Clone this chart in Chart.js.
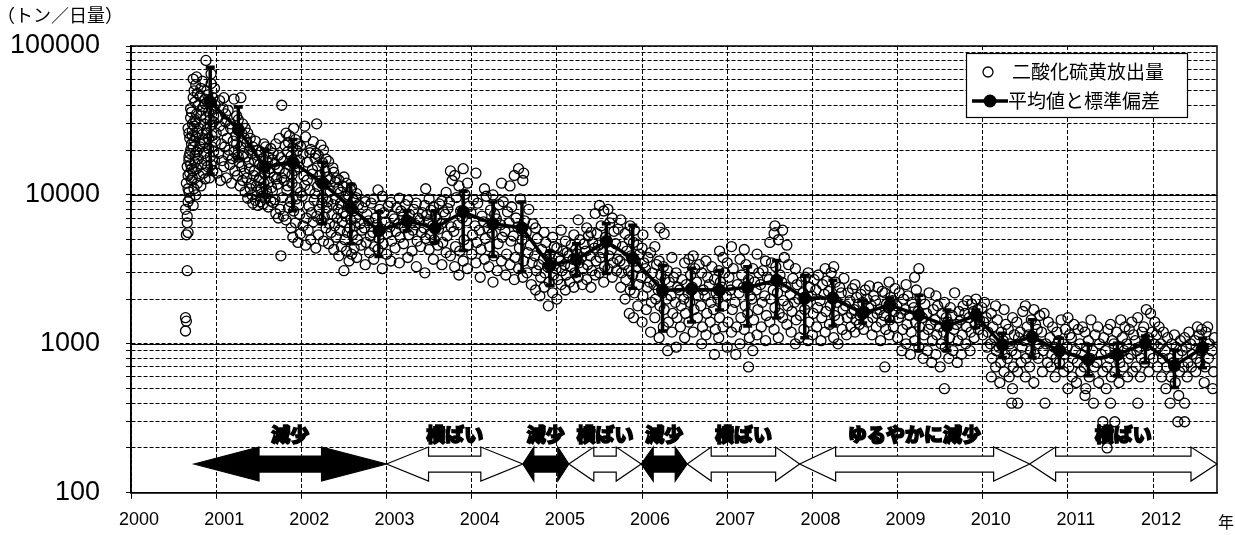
<!DOCTYPE html>
<html lang="ja">
<head>
<meta charset="utf-8">
<title>二酸化硫黄放出量</title>
<script src="https://cdn.jsdelivr.net/npm/chart.js@4.4.1/dist/chart.umd.min.js"></script>
<style>
  html, body { margin: 0; padding: 0; background: #fff; }
  #wrap { position: relative; width: 1235px; height: 535px; }
</style>
</head>
<body>
<div id="wrap"><canvas id="so2Chart" width="1235" height="535"></canvas></div>
<script>
// --- 日別の二酸化硫黄放出量 [年, トン/日] ---
const so2_2000 = [
  [2000.64,1220],[2000.65,1420],[2000.64,1500],[2000.66,3100],[2000.65,5400],[2000.67,5600],[2000.66,6500],[2000.64,8000],[2000.67,9000],
  [2000.66,7200],[2000.68,10500],[2000.65,12000],[2000.67,13500],[2000.66,15500],[2000.68,18000],
  [2000.69,9500],[2000.67,11000],[2000.69,14000],[2000.68,17000],[2000.70,20000],[2000.69,24000],[2000.67,28000],[2000.70,33000],
  [2000.71,12500],[2000.70,16000],[2000.69,19000],[2000.71,22000],[2000.68,26000],[2000.72,30000],[2000.70,38000],
  [2000.73,8500],[2000.72,13000],[2000.71,15000],[2000.73,21000],[2000.72,25000],[2000.71,36000],[2000.73,45000],
  [2000.74,11000],[2000.73,14500],[2000.75,18500],[2000.74,23000],[2000.72,27000],[2000.75,32000],[2000.74,50000],[2000.73,60000],
  [2000.76,10000],[2000.75,16500],[2000.77,19500],[2000.76,24500],[2000.74,29000],[2000.77,35000],[2000.75,42000],[2000.76,55000],
  [2000.78,12000],[2000.77,15000],[2000.79,20000],[2000.78,26000],[2000.76,31000],[2000.79,40000],[2000.78,48000],[2000.77,62000],
  [2000.80,13500],[2000.79,17500],[2000.81,22000],[2000.80,28000],[2000.82,34000],[2000.81,46000],
  [2000.82,11500],[2000.83,16000],[2000.81,21000],[2000.84,25500],[2000.83,37000],[2000.82,52000],[2000.84,58000],
  [2000.85,14000],[2000.86,19000],[2000.84,23500],[2000.86,30000],[2000.85,39000],[2000.87,44000],
  [2000.87,12800],[2000.88,17000],[2000.86,22500],[2000.89,27500],[2000.88,33000],[2000.87,41000],[2000.89,50000],[2000.88,80000],
  [2000.90,15500],[2000.91,20500],[2000.89,26000],[2000.91,36000],[2000.90,47000],
  [2000.92,13000],[2000.93,18000],[2000.91,24000],[2000.93,32000],[2000.92,43000],[2000.94,65000],
  [2000.94,16000],[2000.95,21000],[2000.93,29000],[2000.95,38000],[2000.94,56000],
  [2000.96,14500],[2000.97,19500],[2000.95,25000],[2000.97,34000],[2000.96,45000],
  [2000.98,17000],[2000.99,23000],[2000.97,31000],[2000.99,40000],[2000.98,52000]
];
const so2_2001 = [
  [2001.01,14000],[2001.03,19000],[2001.00,26000],[2001.02,33000],[2001.04,43000],
  [2001.05,12500],[2001.07,17000],[2001.06,22000],[2001.04,29000],[2001.08,38000],
  [2001.09,15500],[2001.10,21000],[2001.08,27000],[2001.11,35000],[2001.09,45000],
  [2001.12,13000],[2001.14,18500],[2001.13,24000],[2001.11,31000],
  [2001.16,16000],[2001.15,20000],[2001.17,28000],[2001.14,37000],
  [2001.18,12000],[2001.19,17500],[2001.20,23000],[2001.17,30000],[2001.21,44000],
  [2001.22,14500],[2001.21,19500],[2001.23,25000],[2001.24,34000],
  [2001.25,13500],[2001.26,18000],[2001.24,22000],[2001.27,27000],[2001.26,32000],
  [2001.28,11500],[2001.27,16500],[2001.29,21000],[2001.30,26000],[2001.29,45000],
  [2001.31,12500],[2001.30,15500],[2001.32,19000],[2001.33,24000],[2001.31,30000],
  [2001.34,10500],[2001.33,14000],[2001.35,18000],[2001.36,22500],[2001.34,28000],
  [2001.37,9500],[2001.36,13000],[2001.38,16500],[2001.39,20000],[2001.37,26000],
  [2001.40,11000],[2001.41,12000],[2001.39,15000],[2001.42,19000],[2001.40,24000],
  [2001.43,8800],[2001.42,10000],[2001.44,13500],[2001.45,17000],[2001.43,21000],
  [2001.46,9200],[2001.47,11500],[2001.45,14500],[2001.48,18500],[2001.46,23000],
  [2001.49,8500],[2001.48,10500],[2001.50,12500],[2001.51,16000],[2001.49,20000],
  [2001.52,9000],[2001.53,11000],[2001.51,13000],[2001.54,15500],[2001.52,19500],
  [2001.55,8700],[2001.54,9800],[2001.56,12000],[2001.57,14000],[2001.55,17500],[2001.56,22000],
  [2001.58,9500],[2001.59,10800],[2001.57,13800],[2001.60,16500],[2001.58,21000],
  [2001.61,8300],[2001.60,10200],[2001.62,12200],[2001.63,15000],[2001.61,18000],
  [2001.64,9100],[2001.65,11200],[2001.63,14200],[2001.66,17200],[2001.64,20500],
  [2001.67,8900],[2001.66,10600],[2001.68,13200],[2001.69,16000],[2001.67,19000],
  [2001.70,7500],[2001.69,9300],[2001.71,12800],[2001.72,15200],[2001.70,22000],
  [2001.73,7000],[2001.72,11800],[2001.74,14800],[2001.73,18500],
  [2001.76,3900],[2001.75,8000],[2001.77,13000],[2001.76,17800],[2001.74,24000],[2001.77,40000],
  [2001.79,7200],[2001.78,9600],[2001.80,12500],[2001.79,16800],[2001.81,21500],
  [2001.82,6800],[2001.83,10800],[2001.81,14000],[2001.84,19500],[2001.82,26000],
  [2001.85,8200],[2001.84,11500],[2001.86,15800],[2001.85,22500],
  [2001.88,6000],[2001.87,9000],[2001.89,13600],[2001.88,18200],[2001.86,25000],
  [2001.90,5200],[2001.91,7800],[2001.89,12000],[2001.92,16200],[2001.90,20800],[2001.91,28000],
  [2001.93,6500],[2001.94,9400],[2001.92,14600],[2001.95,19800],[2001.93,23500],
  [2001.96,4800],[2001.97,8600],[2001.95,11200],[2001.98,17000],[2001.96,22000],
  [2001.99,5500],[2001.98,7400],[2001.99,10400],[2001.97,15400],[2001.99,21200]
];
const so2_2002 = [
  [2002.02,6200],[2002.01,9800],[2002.03,13400],[2002.02,18800],[2002.04,29000],
  [2002.05,4600],[2002.06,7000],[2002.04,11600],[2002.07,16600],[2002.05,24500],
  [2002.08,5800],[2002.09,8400],[2002.07,12600],[2002.10,19200],
  [2002.11,5000],[2002.12,7600],[2002.10,10800],[2002.13,14800],[2002.11,20200],
  [2002.14,6600],[2002.15,9200],[2002.13,13800],[2002.16,17600],[2002.14,22800],
  [2002.17,4400],[2002.18,7200],[2002.16,10200],[2002.19,15600],[2002.17,19000],[2002.18,30000],
  [2002.20,5400],[2002.21,8000],[2002.19,11400],[2002.22,13600],[2002.20,18400],
  [2002.23,6800],[2002.24,8800],[2002.22,12400],[2002.25,16400],[2002.23,21600],
  [2002.26,4900],[2002.27,7100],[2002.25,9600],[2002.28,14400],[2002.26,20000],
  [2002.29,6000],[2002.30,8200],[2002.28,11800],[2002.31,13200],[2002.29,17400],
  [2002.32,4700],[2002.33,6400],[2002.31,9000],[2002.34,12800],[2002.32,16800],
  [2002.35,5600],[2002.36,7400],[2002.34,10600],[2002.37,15200],
  [2002.38,4300],[2002.39,6200],[2002.37,8600],[2002.40,12200],[2002.38,14200],
  [2002.41,5200],[2002.42,7000],[2002.40,9400],[2002.43,11000],[2002.41,13000],
  [2002.44,3900],[2002.45,5800],[2002.43,8000],[2002.46,10400],[2002.44,12600],
  [2002.47,4500],[2002.48,6600],[2002.46,8800],[2002.49,11400],
  [2002.50,3100],[2002.51,5000],[2002.49,7600],[2002.52,9800],[2002.50,13200],
  [2002.53,4200],[2002.54,5600],[2002.52,7200],[2002.55,10000],[2002.53,12000],
  [2002.56,3600],[2002.57,6000],[2002.55,8400],[2002.58,10800],
  [2002.59,4000],[2002.60,5400],[2002.58,6800],[2002.61,9200],[2002.59,11200],
  [2002.62,4400],[2002.63,6200],[2002.61,7800],[2002.64,9600],
  [2002.65,3800],[2002.66,5000],[2002.64,7000],[2002.67,8600],[2002.65,10200],
  [2002.70,4600],[2002.71,5800],[2002.69,6400],[2002.72,8200],
  [2002.75,3400],[2002.76,4800],[2002.74,6000],[2002.77,7400],[2002.75,9000],
  [2002.80,4100],[2002.81,5300],[2002.79,6700],[2002.82,8800],
  [2002.85,3700],[2002.86,4500],[2002.84,5600],[2002.87,7000],[2002.85,9400],
  [2002.90,4300],[2002.91,5100],[2002.89,6300],[2002.92,8000],[2002.90,10800],
  [2002.95,3200],[2002.96,4700],[2002.94,5900],[2002.97,7600],[2002.95,9800]
];
const so2_2003 = [
  [2003.00,4000],[2003.01,5500],[2002.99,6600],[2003.02,8400],
  [2003.05,3600],[2003.06,4900],[2003.04,6100],[2003.07,7200],[2003.05,8900],
  [2003.10,4400],[2003.11,5700],[2003.09,6900],[2003.12,8200],
  [2003.15,3500],[2003.16,5200],[2003.14,6400],[2003.17,7800],[2003.15,9500],
  [2003.20,4700],[2003.21,6000],[2003.19,7100],[2003.22,8600],
  [2003.25,3800],[2003.26,5400],[2003.24,6700],[2003.27,7400],[2003.25,9200],
  [2003.30,4200],[2003.31,5800],[2003.29,6500],[2003.32,8000],
  [2003.35,3300],[2003.36,4900],[2003.34,6300],[2003.37,7000],[2003.35,8800],
  [2003.40,4500],[2003.41,5600],[2003.39,6800],[2003.42,7600],
  [2003.45,3000],[2003.46,5100],[2003.44,6000],[2003.47,7300],[2003.45,8500],[2003.46,11000],
  [2003.50,4300],[2003.51,5500],[2003.49,6600],[2003.52,7900],[2003.50,9400],
  [2003.55,3700],[2003.56,5000],[2003.54,6200],[2003.57,7100],[2003.55,8300],
  [2003.60,4600],[2003.61,5900],[2003.59,6900],[2003.62,8700],
  [2003.65,3400],[2003.66,4800],[2003.64,6400],[2003.67,7700],[2003.65,9100],
  [2003.70,4100],[2003.71,5300],[2003.69,7400],[2003.72,8100],[2003.70,10400],
  [2003.75,3900],[2003.76,6100],[2003.74,8900],[2003.77,12500],[2003.75,14500],
  [2003.80,3300],[2003.81,4500],[2003.79,5700],[2003.82,9600],[2003.80,13500],
  [2003.85,2900],[2003.86,4200],[2003.84,6300],[2003.87,7800],[2003.85,11500],
  [2003.90,3600],[2003.91,5000],[2003.89,7000],[2003.92,10100],[2003.90,15000],
  [2003.95,3200],[2003.96,4600],[2003.94,6700],[2003.97,8400],[2003.95,12000]
];
const so2_2004 = [
  [2004.00,4000],[2004.01,5400],[2003.99,7600],[2004.02,9300],
  [2004.05,3500],[2004.06,4800],[2004.04,6200],[2004.07,8800],[2004.05,14000],
  [2004.10,2800],[2004.11,4300],[2004.09,5800],[2004.12,7200],
  [2004.15,3700],[2004.16,5100],[2004.14,6600],[2004.17,9800],[2004.15,11000],
  [2004.20,3300],[2004.21,4500],[2004.19,6000],[2004.22,7900],
  [2004.25,2600],[2004.26,3900],[2004.24,5500],[2004.27,7400],[2004.25,10000],
  [2004.30,3100],[2004.31,4700],[2004.29,6900],[2004.32,8600],
  [2004.35,3600],[2004.36,5200],[2004.34,6300],[2004.37,9000],[2004.35,12000],
  [2004.40,2900],[2004.41,4000],[2004.39,5700],[2004.42,7700],
  [2004.45,3400],[2004.46,4900],[2004.44,6500],[2004.47,8300],[2004.45,11500],
  [2004.50,2700],[2004.51,3800],[2004.49,5300],[2004.52,7000],[2004.50,13500],
  [2004.55,3200],[2004.56,4400],[2004.54,6100],[2004.57,9400],[2004.55,15000],
  [2004.60,2800],[2004.61,3600],[2004.59,5000],[2004.62,6700],[2004.60,12500],[2004.61,14000],
  [2004.65,3000],[2004.66,4100],[2004.64,5600],[2004.67,8000],
  [2004.70,2500],[2004.71,3500],[2004.69,4600],[2004.72,6400],
  [2004.75,2300],[2004.76,3100],[2004.74,3900],[2004.77,5100],[2004.75,6000],
  [2004.80,2100],[2004.81,2800],[2004.79,3400],[2004.82,4300],
  [2004.85,2400],[2004.86,3000],[2004.84,3700],[2004.87,4800],[2004.85,5600],
  [2004.90,1800],[2004.91,2600],[2004.89,3300],[2004.92,4000],
  [2004.95,2200],[2004.96,2900],[2004.94,3500],[2004.97,4500],[2004.95,5200]
];
const so2_2005 = [
  [2005.00,2000],[2005.01,2700],[2004.99,3200],[2005.02,3800],[2005.00,4400],
  [2005.05,2500],[2005.06,3100],[2005.04,3600],[2005.07,4200],[2005.05,5800],
  [2005.10,2300],[2005.11,2900],[2005.09,3400],[2005.12,4100],[2005.10,4900],
  [2005.15,2600],[2005.16,3300],[2005.14,3900],[2005.17,4600],
  [2005.20,2400],[2005.21,3000],[2005.19,3700],[2005.22,4300],[2005.20,5400],
  [2005.25,2800],[2005.26,3500],[2005.24,4000],[2005.27,5000],[2005.25,6800],
  [2005.30,2500],[2005.31,3200],[2005.29,3800],[2005.32,4700],
  [2005.35,2700],[2005.36,3400],[2005.34,4200],[2005.37,5300],[2005.35,6000],
  [2005.40,2400],[2005.41,3100],[2005.39,3900],[2005.42,4800],[2005.40,5600],
  [2005.45,2900],[2005.46,3600],[2005.44,4400],[2005.47,5500],[2005.45,7500],
  [2005.50,3000],[2005.51,3800],[2005.49,4600],[2005.52,6200],[2005.50,8500],
  [2005.55,2600],[2005.56,3300],[2005.54,4100],[2005.57,5200],[2005.55,7800],
  [2005.60,3200],[2005.61,3900],[2005.59,4900],[2005.62,6500],[2005.60,8000],
  [2005.65,2800],[2005.66,3500],[2005.64,4300],[2005.67,5700],[2005.65,7000],
  [2005.70,3100],[2005.71,3700],[2005.69,4700],[2005.72,5900],
  [2005.75,2400],[2005.76,3000],[2005.74,3600],[2005.77,4500],[2005.75,6800],
  [2005.80,2000],[2005.81,2700],[2005.79,3400],[2005.82,4200],[2005.80,5500],
  [2005.85,1600],[2005.86,2300],[2005.84,3100],[2005.87,3900],[2005.85,5000],[2005.86,6200],
  [2005.90,1500],[2005.91,2200],[2005.89,2900],[2005.92,3600],[2005.90,4800],[2005.91,5800],
  [2005.95,1800],[2005.96,2500],[2005.94,3300],[2005.97,4000],[2005.95,4600]
];
const so2_2006 = [
  [2006.00,1400],[2006.01,2100],[2005.99,2800],[2006.02,3500],[2006.00,4400],[2006.01,5400],
  [2006.05,1700],[2006.06,2400],[2006.04,3200],[2006.07,3800],
  [2006.10,1200],[2006.11,1900],[2006.09,2600],[2006.12,3000],[2006.10,4100],
  [2006.15,1500],[2006.16,2000],[2006.14,2500],[2006.17,3400],[2006.15,4500],
  [2006.20,1100],[2006.21,1800],[2006.19,2300],[2006.22,2900],[2006.20,3600],[2006.21,6000],
  [2006.25,1300],[2006.26,1700],[2006.24,2200],[2006.27,2700],[2006.25,3300],[2006.26,5500],
  [2006.30,900],[2006.31,1400],[2006.29,2000],[2006.32,2600],[2006.30,3100],
  [2006.35,1200],[2006.36,1600],[2006.34,2100],[2006.37,2800],[2006.35,3800],
  [2006.40,950],[2006.41,1500],[2006.39,1900],[2006.42,2400],[2006.40,3000],
  [2006.45,1300],[2006.46,1800],[2006.44,2300],[2006.47,2700],
  [2006.50,1100],[2006.51,1600],[2006.49,2000],[2006.52,2500],[2006.50,3500],
  [2006.55,1400],[2006.56,1900],[2006.54,2200],[2006.57,2900],[2006.55,3700],
  [2006.60,1200],[2006.61,1700],[2006.59,2400],[2006.62,3200],[2006.60,3900],
  [2006.65,1500],[2006.66,2100],[2006.64,2600],[2006.67,3400],
  [2006.70,1000],[2006.71,1300],[2006.69,1800],[2006.72,2300],[2006.70,3000],
  [2006.75,1150],[2006.76,1600],[2006.74,2100],[2006.77,2800],[2006.75,3600],
  [2006.80,1400],[2006.81,1900],[2006.79,2500],[2006.82,3300],
  [2006.85,850],[2006.86,1250],[2006.84,1700],[2006.87,2200],[2006.85,2700],
  [2006.90,1100],[2006.91,1500],[2006.89,2000],[2006.92,2600],[2006.90,3100],[2006.91,4200],
  [2006.95,1300],[2006.96,1800],[2006.94,2400],[2006.97,3000],[2006.95,3800]
];
const so2_2007 = [
  [2007.00,950],[2007.01,1400],[2006.99,2100],[2007.02,2800],[2007.00,3500],
  [2007.05,1200],[2007.06,1700],[2007.04,2300],[2007.07,3200],[2007.05,4500],
  [2007.10,850],[2007.11,1300],[2007.09,1900],[2007.12,2500],
  [2007.15,1000],[2007.16,1500],[2007.14,2200],[2007.17,2900],[2007.15,3700],
  [2007.20,1250],[2007.21,1800],[2007.19,2400],[2007.22,3400],[2007.20,4300],
  [2007.25,700],[2007.26,1100],[2007.24,1600],[2007.27,2100],[2007.25,2700],
  [2007.30,900],[2007.31,1450],[2007.29,2000],[2007.32,2600],[2007.30,3200],
  [2007.35,1150],[2007.36,1700],[2007.34,2300],[2007.37,3000],[2007.35,4000],
  [2007.40,1300],[2007.41,1900],[2007.39,2500],[2007.42,3100],
  [2007.45,1050],[2007.46,1550],[2007.44,2100],[2007.47,2800],[2007.45,3600],
  [2007.50,1400],[2007.51,2000],[2007.49,2700],[2007.52,3500],[2007.50,4800],
  [2007.55,1250],[2007.56,1750],[2007.54,2300],[2007.57,3300],[2007.55,5500],[2007.56,6200],
  [2007.60,1100],[2007.61,1600],[2007.59,2200],[2007.62,2900],[2007.60,5000],
  [2007.65,1500],[2007.66,1950],[2007.64,2600],[2007.67,3800],[2007.65,5800],
  [2007.70,1350],[2007.71,1800],[2007.69,2400],[2007.72,3400],[2007.70,4600],
  [2007.75,1200],[2007.76,1650],[2007.74,2150],[2007.77,2750],
  [2007.80,1000],[2007.81,1450],[2007.79,1900],[2007.82,2500],[2007.80,3200],
  [2007.85,1100],[2007.86,1550],[2007.84,2000],[2007.87,2600],
  [2007.90,1250],[2007.91,1700],[2007.89,2200],[2007.92,2800],
  [2007.95,1050],[2007.96,1400],[2007.94,1850],[2007.97,2400],[2007.95,3000]
];
const so2_2008 = [
  [2008.00,1150],[2008.01,1600],[2007.99,2100],[2008.02,2700],
  [2008.05,1300],[2008.06,1750],[2008.04,2300],[2008.07,2900],
  [2008.10,1050],[2008.11,1500],[2008.09,1950],[2008.12,2500],
  [2008.15,1200],[2008.16,1650],[2008.14,2150],[2008.17,2650],[2008.15,3200],
  [2008.20,1350],[2008.21,1800],[2008.19,2250],[2008.22,3000],
  [2008.25,1100],[2008.26,1550],[2008.24,2050],[2008.27,2600],[2008.25,3300],
  [2008.30,1000],[2008.31,1450],[2008.29,1900],[2008.32,2400],
  [2008.35,1250],[2008.36,1700],[2008.34,2200],[2008.37,2750],
  [2008.40,1150],[2008.41,1500],[2008.39,1800],[2008.42,2200],
  [2008.45,1300],[2008.46,1600],[2008.44,1950],[2008.47,2350],
  [2008.50,1200],[2008.51,1450],[2008.49,1700],[2008.52,2050],[2008.50,2500],
  [2008.55,1350],[2008.56,1550],[2008.54,1850],[2008.57,2150],
  [2008.60,1250],[2008.61,1650],[2008.59,1900],[2008.62,2300],
  [2008.65,1400],[2008.66,1750],[2008.64,2000],[2008.67,2450],
  [2008.70,1150],[2008.71,1500],[2008.69,1800],[2008.72,2100],
  [2008.75,1300],[2008.76,1600],[2008.74,1950],[2008.77,2400],
  [2008.80,1050],[2008.81,1400],[2008.79,1700],[2008.82,2250],
  [2008.85,700],[2008.86,1250],[2008.84,1550],[2008.87,1850],[2008.85,2200],
  [2008.90,1150],[2008.91,1450],[2008.89,1750],[2008.92,2050],[2008.90,2600],
  [2008.95,1300],[2008.96,1650],[2008.94,1950],[2008.97,2350]
];
const so2_2009 = [
  [2009.00,1100],[2009.01,1500],[2008.99,1800],[2009.02,2200],
  [2009.05,900],[2009.06,1250],[2009.04,1600],[2009.07,2000],
  [2009.10,1000],[2009.11,1350],[2009.09,1700],[2009.12,2100],[2009.10,2500],
  [2009.15,850],[2009.16,1200],[2009.14,1550],[2009.17,1900],
  [2009.20,1050],[2009.21,1400],[2009.19,1750],[2009.22,2300],[2009.20,2800],
  [2009.25,950],[2009.26,1300],[2009.24,1650],[2009.27,2000],[2009.25,3200],
  [2009.30,800],[2009.31,1150],[2009.29,1500],[2009.32,1850],
  [2009.35,900],[2009.36,1250],[2009.34,1600],[2009.37,2200],
  [2009.40,750],[2009.41,1050],[2009.39,1350],[2009.42,1700],
  [2009.45,850],[2009.46,1150],[2009.44,1450],[2009.47,1800],[2009.45,2100],
  [2009.50,700],[2009.51,1000],[2009.49,1300],[2009.52,1600],
  [2009.55,500],[2009.56,950],[2009.54,1200],[2009.57,1500],[2009.55,1900],
  [2009.60,800],[2009.61,1100],[2009.59,1400],[2009.62,1750],
  [2009.65,900],[2009.66,1250],[2009.64,1550],[2009.67,2200],
  [2009.70,750],[2009.71,1050],[2009.69,1350],[2009.72,1650],
  [2009.75,850],[2009.76,1150],[2009.74,1450],[2009.77,1800],
  [2009.80,1000],[2009.81,1300],[2009.79,1600],[2009.82,1950],
  [2009.85,900],[2009.86,1200],[2009.84,1500],[2009.87,1850],
  [2009.90,1100],[2009.91,1350],[2009.89,1650],[2009.92,2000],
  [2009.95,1250],[2009.96,1450],[2009.94,1700]
];
const so2_2010 = [
  [2010.00,1150],[2010.01,1400],[2009.99,1750],[2010.02,1900],
  [2010.05,950],[2010.06,1200],[2010.04,1500],
  [2010.10,600],[2010.11,800],[2010.09,1000],[2010.12,1300],[2010.10,1600],
  [2010.15,700],[2010.16,900],[2010.14,1100],[2010.17,1450],[2010.15,1800],
  [2010.20,550],[2010.21,750],[2010.19,950],[2010.22,1200],
  [2010.25,650],[2010.26,850],[2010.24,1050],[2010.27,1350],[2010.25,1700],
  [2010.34,400],[2010.31,600],[2010.29,800],[2010.32,1000],[2010.30,1250],
  [2010.35,500],[2010.36,700],[2010.34,900],[2010.37,1150],[2010.35,1500],
  [2010.41,400],[2010.41,650],[2010.39,850],[2010.42,1100],[2010.40,1400],
  [2010.45,750],[2010.46,950],[2010.44,1200],[2010.47,1650],
  [2010.50,600],[2010.51,800],[2010.49,1050],[2010.52,1300],[2010.50,1800],
  [2010.55,700],[2010.56,900],[2010.54,1150],[2010.57,1450],
  [2010.60,550],[2010.61,850],[2010.59,1100],[2010.62,1350],[2010.60,1700],
  [2010.65,800],[2010.66,1000],[2010.64,1250],[2010.67,1550],
  [2010.70,650],[2010.71,900],[2010.69,1200],[2010.72,1600],
  [2010.73,400],[2010.76,750],[2010.74,1000],[2010.77,1400],
  [2010.80,700],[2010.81,850],[2010.79,1100],[2010.82,1300],
  [2010.85,600],[2010.86,800],[2010.84,950],[2010.87,1200],
  [2010.90,750],[2010.91,900],[2010.89,1050],[2010.92,1450],
  [2010.95,650],[2010.96,850],[2010.94,1000],[2010.97,1250]
];
const so2_2011 = [
  [2011.00,500],[2011.01,700],[2010.99,950],[2011.02,1150],[2011.00,1500],
  [2011.05,600],[2011.06,800],[2011.04,1100],[2011.07,1350],
  [2011.10,550],[2011.11,750],[2011.09,900],[2011.12,1250],
  [2011.15,650],[2011.16,850],[2011.14,1000],[2011.17,1300],
  [2011.20,450],[2011.21,500],[2011.19,700],[2011.22,950],[2011.20,1200],
  [2011.25,600],[2011.26,800],[2011.24,1050],[2011.27,1450],
  [2011.30,400],[2011.31,700],[2011.29,900],[2011.32,1150],
  [2011.46,200],[2011.36,550],[2011.34,750],[2011.37,1000],[2011.35,1300],
  [2011.41,300],[2011.41,650],[2011.39,850],[2011.42,1100],
  [2011.45,500],[2011.46,700],[2011.44,900],[2011.47,1250],
  [2011.50,400],[2011.51,600],[2011.49,800],[2011.52,1050],[2011.50,1350],
  [2011.55,300],[2011.56,850],[2011.54,1000],[2011.57,1200],[2011.55,650],
  [2011.60,550],[2011.61,750],[2011.59,950],[2011.62,1450],
  [2011.65,700],[2011.66,900],[2011.64,1100],[2011.67,1300],
  [2011.70,600],[2011.71,800],[2011.69,1000],[2011.72,1250],
  [2011.82,400],[2011.76,650],[2011.74,850],[2011.77,1150],[2011.75,1400],
  [2011.80,700],[2011.81,900],[2011.79,1050],[2011.82,1500],
  [2011.85,600],[2011.86,800],[2011.84,950],[2011.87,1200],
  [2011.90,750],[2011.91,1000],[2011.89,1300],[2011.92,1700],
  [2011.95,650],[2011.96,850],[2011.94,1100],[2011.97,1600]
];
const so2_2012 = [
  [2012.00,800],[2012.01,1000],[2011.99,1200],[2012.02,1400],
  [2012.05,700],[2012.06,950],[2012.04,1150],[2012.07,1300],
  [2012.10,600],[2012.11,800],[2012.09,1000],[2012.12,1200],
  [2012.15,500],[2012.16,700],[2012.14,900],[2012.17,1100],
  [2012.20,400],[2012.21,600],[2012.19,800],[2012.22,1000],
  [2012.29,300],[2012.26,550],[2012.24,750],[2012.27,950],[2012.25,1150],
  [2012.30,450],[2012.31,650],[2012.29,850],[2012.32,1050],
  [2012.37,300],[2012.37,400],[2012.36,700],[2012.34,900],[2012.37,1100],
  [2012.40,600],[2012.41,750],[2012.39,950],[2012.42,1200],
  [2012.45,700],[2012.46,850],[2012.44,1000],
  [2012.50,650],[2012.51,800],[2012.49,1050],[2012.52,1300],
  [2012.55,750],[2012.56,900],[2012.54,1150],[2012.57,1250],
  [2012.60,550],[2012.61,700],[2012.59,950],[2012.62,1200],
  [2012.65,800],[2012.66,1000],[2012.64,1300],
  [2012.70,500],[2012.71,650],[2012.69,900],[2012.72,1100]
];

// --- 4か月ごとの平均値と標準偏差（上端・下端） ---
const meanDates = [2000.93, 2001.26, 2001.57, 2001.90, 2002.25, 2002.58, 2002.91, 2003.24, 2003.57, 2003.90,
  2004.25, 2004.59, 2004.92, 2005.23, 2005.58, 2005.89, 2006.24, 2006.58, 2006.91, 2007.24,
  2007.58, 2007.91, 2008.24, 2008.59, 2008.91, 2009.25, 2009.58, 2009.92, 2010.23, 2010.58,
  2010.90, 2011.24, 2011.58, 2011.91, 2012.25, 2012.58];
const meanValues = [42000, 27500, 15400, 16600, 12000, 8200, 5750, 6700, 6000, 7700,
  6400, 6000, 3360, 3690, 4860, 3750, 2290, 2330, 2290, 2400,
  2670, 2030, 2030, 1610, 1820, 1560, 1320, 1550, 985, 1110,
  898, 783, 845, 1010, 714, 940];
const sdUpper = [72000, 39000, 20300, 23600, 16600, 11800, 7700, 7800, 7800, 10600,
  8970, 8970, 4170, 4710, 6410, 6260, 3360, 3220, 3110, 3300,
  3630, 2880, 2670, 1940, 2030, 2120, 1690, 1690, 1180, 1450,
  1090, 985, 1010, 1130, 910, 1090];
const sdLower = [13800, 17400, 9850, 7820, 6410, 4710, 3860, 5750, 4800, 4240,
  3860, 3060, 2470, 2880, 2970, 2360, 1220, 1400, 1690, 1320,
  1490, 1100, 1320, 1380, 1420, 898, 898, 1290, 810, 810,
  692, 612, 612, 748, 509, 692];

// --- 傾向の区間（開始年, 終了年） ---
const trendStart  = [2000.74, 2003.00, 2004.60, 2005.14, 2005.99, 2006.53, 2007.85, 2010.55];
const trendEnd    = [2003.00, 2004.60, 2005.14, 2005.99, 2006.53, 2007.85, 2010.55, 2012.75];
const trendLabels = ['減少', '横ばい', '減少', '横ばい', '減少', '横ばい', 'ゆるやかに減少', '横ばい'];
const trendFalling = [true, false, true, false, true, false, false, false];

// --- 軸の目盛り ---
const yearTicks = [2000, 2001, 2002, 2003, 2004, 2005, 2006, 2007, 2008, 2009, 2010, 2011, 2012];
const yLabelTicks = [100, 1000, 10000, 100000];
const yMinorSteps = [1, 2, 3, 4, 5, 6, 7, 8, 9];

const NUM_FONT = '"Liberation Sans", Arial, sans-serif';
const JP_FONT = '"Noto Sans CJK JP", "Noto Sans", sans-serif';

const so2Points = [].concat(so2_2000, so2_2001, so2_2002, so2_2003, so2_2004, so2_2005,
  so2_2006, so2_2007, so2_2008, so2_2009, so2_2010, so2_2011, so2_2012)
  .map(p => ({ x: p[0], y: p[1] }));
const meanPoints = meanDates.map((d, i) => ({ x: d, y: meanValues[i] }));

const yGridTicks = [];
for (let dec = 100; dec < 100000; dec *= 10) {
  yMinorSteps.forEach(m => yGridTicks.push(m * dec));
}
yGridTicks.push(100000);

// 実線の桁線・枠・傾向の矢印
const backdropPlugin = {
  id: 'backdrop',
  beforeDatasetsDraw(chart) {
    const { ctx, chartArea: a, scales: { x, y } } = chart;
    ctx.save();
    ctx.strokeStyle = '#000';
    ctx.lineWidth = 1;
    [1000, 10000].forEach(v => {
      const py = Math.round(y.getPixelForValue(v)) + 0.5;
      ctx.beginPath();
      ctx.moveTo(a.left, py);
      ctx.lineTo(a.right, py);
      ctx.stroke();
    });

    // 矢印
    const heads = [65, 42, 11, 25, 12, 24, 36, 26];
    const yc = y.getPixelForValue(156);
    const headHalf = 17, shaftHalf = 8;
    trendStart.forEach((s, i) => {
      const x1 = x.getPixelForValue(s);
      const x2 = x.getPixelForValue(trendEnd[i]);
      const h = heads[i];
      ctx.beginPath();
      ctx.moveTo(x1, yc);
      ctx.lineTo(x1 + h, yc - headHalf);
      ctx.lineTo(x1 + h, yc - shaftHalf);
      ctx.lineTo(x2 - h, yc - shaftHalf);
      ctx.lineTo(x2 - h, yc - headHalf);
      ctx.lineTo(x2, yc);
      ctx.lineTo(x2 - h, yc + headHalf);
      ctx.lineTo(x2 - h, yc + shaftHalf);
      ctx.lineTo(x1 + h, yc + shaftHalf);
      ctx.lineTo(x1 + h, yc + headHalf);
      ctx.closePath();
      ctx.fillStyle = trendFalling[i] ? '#000' : '#fff';
      ctx.fill();
      ctx.lineWidth = 1.2;
      ctx.stroke();
    });

    // 矢印の見出し
    const ly = y.getPixelForValue(247);
    ctx.fillStyle = '#000';
    ctx.font = '900 19px ' + JP_FONT;
    ctx.textAlign = 'center';
    ctx.textBaseline = 'middle';
    trendLabels.forEach((t, i) => {
      const cx = (x.getPixelForValue(trendStart[i]) + x.getPixelForValue(trendEnd[i])) / 2;
      ctx.lineWidth = 1.5;
      ctx.strokeText(t, cx, ly);
      ctx.fillText(t, cx, ly);
    });
    ctx.restore();
  },
  afterDatasetsDraw(chart) {
    const { ctx, chartArea: a, scales: { x, y } } = chart;
    ctx.save();
    // 標準偏差のエラーバー
    ctx.strokeStyle = '#000';
    ctx.lineWidth = 3.5;
    meanDates.forEach((d, i) => {
      const px = x.getPixelForValue(d);
      const top = y.getPixelForValue(sdUpper[i]);
      const bot = y.getPixelForValue(sdLower[i]);
      ctx.beginPath();
      ctx.moveTo(px, top);
      ctx.lineTo(px, bot);
      ctx.moveTo(px - 4.5, top);
      ctx.lineTo(px + 4.5, top);
      ctx.moveTo(px - 4.5, bot);
      ctx.lineTo(px + 4.5, bot);
      ctx.stroke();
    });
    // 外枠
    ctx.lineWidth = 1.5;
    ctx.strokeRect(a.left, a.top, a.right - a.left, a.bottom - a.top);
    ctx.restore();
  },
  afterDraw(chart) {
    const { ctx } = chart;
    ctx.save();
    ctx.fillStyle = '#000';
    ctx.textBaseline = 'middle';

    // 単位・年
    ctx.font = '18px ' + JP_FONT;
    ctx.textAlign = 'left';
    ctx.fillText('（トン／日量）', -3, 15);
    ctx.font = '16px ' + JP_FONT;
    ctx.fillText('年', 1218, 522);

    // 凡例
    const bx = 966, by = 53, bw = 221, bh = 64;
    ctx.fillStyle = '#fff';
    ctx.fillRect(bx, by, bw, bh);
    ctx.strokeStyle = '#000';
    ctx.lineWidth = 1.2;
    ctx.strokeRect(bx + 0.5, by + 0.5, bw, bh);

    ctx.beginPath();
    ctx.arc(988, 72, 5, 0, Math.PI * 2);
    ctx.lineWidth = 1.3;
    ctx.stroke();

    ctx.beginPath();
    ctx.lineWidth = 3.5;
    ctx.moveTo(972, 101);
    ctx.lineTo(1008, 101);
    ctx.stroke();
    ctx.beginPath();
    ctx.arc(990, 101, 6.5, 0, Math.PI * 2);
    ctx.fillStyle = '#000';
    ctx.fill();

    ctx.font = '19px ' + JP_FONT;
    ctx.textAlign = 'left';
    ctx.fillText('二酸化硫黄放出量', 1012, 72);
    ctx.fillText('平均値と標準偏差', 1008, 101);
    ctx.restore();
  }
};

new Chart(document.getElementById('so2Chart'), {
  type: 'scatter',
  data: {
    datasets: [
      {
        label: '平均値と標準偏差',
        data: meanPoints,
        showLine: true,
        borderColor: '#000',
        backgroundColor: '#000',
        borderWidth: 3.5,
        pointRadius: 6.5,
        pointBorderWidth: 0,
        order: 0
      },
      {
        label: '二酸化硫黄放出量',
        data: so2Points,
        pointRadius: 5,
        borderWidth: 1.3,
        borderColor: '#000',
        backgroundColor: 'rgba(0,0,0,0)',
        order: 1
      }
    ]
  },
  options: {
    responsive: false,
    animation: false,
    layout: { padding: { top: 46, right: 18, left: 0, bottom: 0 } },
    plugins: { legend: { display: false }, tooltip: { enabled: false } },
    scales: {
      x: {
        type: 'linear',
        min: 2000,
        max: 2012.75,
        afterBuildTicks: s => { s.ticks = yearTicks.map(v => ({ value: v })); },
        afterFit: s => { s.height = 39; },
        grid: { color: '#000', lineWidth: 1, tickLength: 6, tickColor: '#000', tickBorderDash: [] },
        border: { display: true, color: '#000', width: 1.5, dash: [4, 2] },
        ticks: {
          color: '#000',
          font: { family: NUM_FONT, size: 18 },
          padding: 10,
          labelOffset: 8,
          maxRotation: 0,
          autoSkip: false,
          callback: v => String(v)
        }
      },
      y: {
        type: 'logarithmic',
        min: 100,
        max: 100000,
        afterBuildTicks: s => { s.ticks = yGridTicks.map(v => ({ value: v })); },
        afterFit: s => { s.width = 131; },
        grid: { color: '#000', lineWidth: 1, tickLength: 5, tickColor: '#000', tickBorderDash: [] },
        border: { display: true, color: '#000', width: 1.5, dash: [4, 2] },
        ticks: {
          color: '#000',
          font: { family: NUM_FONT, size: 27 },
          padding: 26,
          autoSkip: false,
          callback: v => (yLabelTicks.includes(v) ? String(v) : '')
        }
      }
    }
  },
  plugins: [backdropPlugin]
});
</script>
</body>
</html>
